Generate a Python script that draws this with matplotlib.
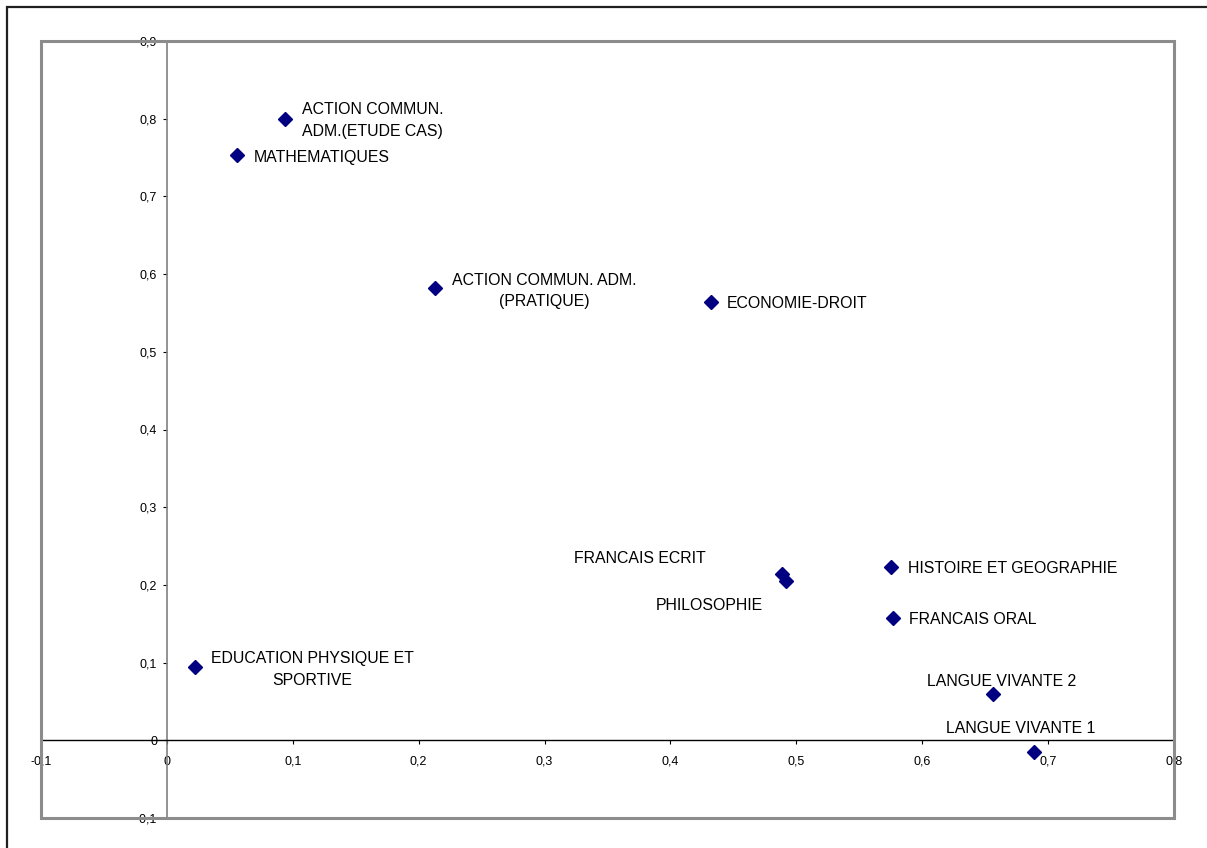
import matplotlib
matplotlib.use("Agg")
import matplotlib.pyplot as plt
from matplotlib.patches import Rectangle
from matplotlib.ticker import FuncFormatter, MultipleLocator

plt.rcParams['font.family'] = ['Liberation Sans', 'DejaVu Sans']

# matières (coordonnées)
labels = ["ACTION COMMUN.\nADM.(ETUDE CAS)", "MATHEMATIQUES",
          "ACTION COMMUN. ADM.\n(PRATIQUE)", "ECONOMIE-DROIT",
          "FRANCAIS ECRIT", "PHILOSOPHIE", "HISTOIRE ET GEOGRAPHIE",
          "FRANCAIS ORAL", "LANGUE VIVANTE 2", "LANGUE VIVANTE 1",
          "EDUCATION PHYSIQUE ET\nSPORTIVE"]
x_vals = [0.094, 0.056, 0.213, 0.432, 0.489, 0.492, 0.575, 0.577, 0.656, 0.689, 0.022]
y_vals = [0.800, 0.753, 0.582, 0.564, 0.214, 0.205, 0.223, 0.157, 0.060, -0.015, 0.094]

# placement des étiquettes (décalage en pixels, alignement)
offsets = [(17, -2), (16, -2), (109, -3), (16, -1), (-77, 16), (-23, -24),
           (17, -1), (16, -1), (-66, 12), (-88, 23), (118, -2)]
aligns = ['left', 'left', 'center', 'left', 'right', 'right',
          'left', 'left', 'left', 'left', 'center']

fig = plt.figure(figsize=(12.07, 8.48), dpi=100)
W, H = 1207, 848

# cadre extérieur (coupé à droite et en bas)
fig.patches.append(Rectangle((7 / W, -0.1), 1.2, 1 - 7 / H + 0.1,
                             transform=fig.transFigure, fill=False,
                             edgecolor='#202020', lw=1.6))

ax = fig.add_axes([41 / W, 1 - 818 / H, (1174 - 41) / W, (818 - 41) / H])
ax.set_xlim(-0.1, 0.8)
ax.set_ylim(-0.1, 0.9)

ax.spines['left'].set_position(('data', 0))
ax.spines['bottom'].set_position(('data', 0))
ax.spines['left'].set_color('#808080')
ax.spines['bottom'].set_color('black')
ax.spines['left'].set_linewidth(1.2)
ax.spines['bottom'].set_linewidth(1.0)
ax.spines['top'].set_visible(False)
ax.spines['right'].set_visible(False)

ax.add_patch(Rectangle((0, 0), 1, 1, transform=ax.transAxes, fill=False,
                       edgecolor='#8c8c8c', lw=2.2, clip_on=False, zorder=5))

fmt = FuncFormatter(lambda v, p: f"{v:g}".replace('.', ','))
ax.xaxis.set_major_locator(MultipleLocator(0.1))
ax.yaxis.set_major_locator(MultipleLocator(0.1))
ax.xaxis.set_major_formatter(fmt)
ax.yaxis.set_major_formatter(fmt)
ax.tick_params(axis='both', direction='out', length=3, width=0.8,
               labelsize=9, colors='black')
ax.tick_params(axis='x', pad=8)
ax.tick_params(axis='y', pad=4)

ax.plot(x_vals, y_vals, linestyle='none', marker='D', markersize=7.5,
        color='#000080', zorder=6, clip_on=False)

for lab, x, y, off, ha in zip(labels, x_vals, y_vals, offsets, aligns):
    ax.annotate(lab, (x, y), xytext=off, textcoords='offset pixels',
                ha=ha, va='center', multialignment='center' if ha == 'center' else 'left',
                fontsize=11.4, linespacing=1.55, color='black')

fig.savefig("out.png", dpi=100)
